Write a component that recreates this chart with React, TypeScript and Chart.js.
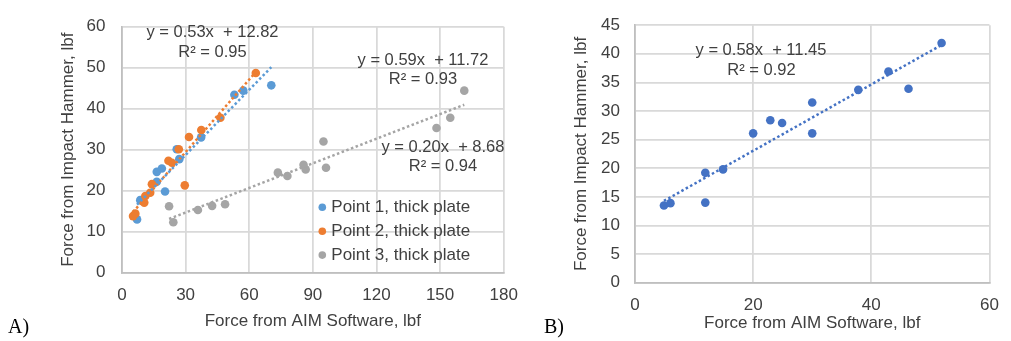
import React, { useEffect, useRef } from "react";
import { Chart, registerables } from "chart.js";

Chart.register(...registerables);

// ---------- Data: chart A ----------
const seriesNamesA = ["Point 1, thick plate", "Point 2, thick plate", "Point 3, thick plate"];
const p1X = [7.1, 8.6, 16.4, 16.4, 18.8, 20.3, 25.8, 27.0, 37.3, 53.0, 57.2, 70.4];
const p1Y = [13.0, 17.7, 22.2, 24.6, 25.4, 19.8, 30.1, 27.7, 33.0, 43.4, 44.4, 45.7];
const p2X = [5.2, 6.3, 10.5, 11.0, 13.3, 14.1, 21.9, 23.5, 26.8, 29.6, 31.6, 37.4, 46.4, 63.1];
const p2Y = [13.8, 14.4, 17.1, 18.7, 19.5, 21.6, 27.3, 26.8, 30.1, 21.3, 33.1, 34.8, 37.8, 48.7];
const p3X = [22.2, 24.2, 35.8, 42.5, 48.6, 73.5, 78.0, 85.6, 86.6, 95.0, 96.2, 148.3, 154.8, 161.4];
const p3Y = [16.2, 12.3, 15.3, 16.3, 16.7, 24.4, 23.6, 26.3, 25.2, 32.0, 25.6, 35.3, 37.8, 44.4];
const fitSlopeA = [0.53, 0.59, 0.2];
const fitInterceptA = [12.82, 11.72, 8.68];
const fitR2A = ["0.95", "0.93", "0.94"];
const fitEqA = ["y = 0.53x  + 12.82", "y = 0.59x  + 11.72", "y = 0.20x  + 8.68"];
const xTicksA = { min: 0, max: 180, step: 30 };
const yTicksA = { min: 0, max: 60, step: 10 };

// ---------- Data: chart B ----------
const bX = [4.9, 6.0, 11.9, 11.9, 14.9, 20.0, 22.9, 24.9, 30.0, 30.0, 37.8, 42.9, 46.3, 51.9];
const bY = [13.5, 13.9, 19.2, 14.0, 19.8, 26.1, 28.4, 27.9, 31.5, 26.1, 33.7, 36.9, 33.9, 41.9];
const fitSlopeB = 0.58;
const fitInterceptB = 11.45;
const fitEqB = "y = 0.58x  + 11.45";
const fitR2B = "0.92";
const xTicksB = { min: 0, max: 60, step: 20 };
const yTicksB = { min: 0, max: 45, step: 5 };

const xTitle = "Force from AIM Software, lbf";
const yTitle = "Force from Impact Hammer, lbf";

// ---------- Styles ----------
const BLUE = "#5B9BD5";
const ORANGE = "#ED7D31";
const GRAY = "#A5A5A5";
const BLUE_B = "#4472C4";
const TEXT = "#404040";
const FAMILY = "'Liberation Sans', Arial, sans-serif";

const pts = (xs: number[], ys: number[]) => xs.map((x, i) => ({ x, y: ys[i] }));
const trend = (xs: number[], m: number, b: number) => {
  const lo = Math.min(...xs);
  const hi = Math.max(...xs);
  return [
    { x: lo, y: m * lo + b },
    { x: hi, y: m * hi + b },
  ];
};

const textPlugin = {
  id: "texts",
  afterDatasetsDraw(chart: any, _args: any, opts: any) {
    const ctx = chart.ctx;
    ctx.save();
    ctx.textBaseline = "middle";
    for (const t of opts.items || []) {
      ctx.font = t.font;
      ctx.fillStyle = TEXT;
      ctx.textAlign = t.align || "center";
      ctx.fillText(t.text, t.x, t.y);
    }
    const lg = opts.legend;
    if (lg) {
      lg.items.forEach((it: any, i: number) => {
        const y = lg.y + i * lg.dy;
        ctx.beginPath();
        ctx.fillStyle = it.color;
        ctx.arc(lg.x, y, lg.r, 0, Math.PI * 2);
        ctx.fill();
        ctx.font = lg.font;
        ctx.fillStyle = TEXT;
        ctx.textAlign = "left";
        ctx.fillText(it.text, lg.x + lg.gap, y);
      });
    }
    ctx.restore();
  },
};

const tickFont = { family: FAMILY, size: 17 };
const titleFont = { family: FAMILY, size: 17 };
const eqFont = `16.5px ${FAMILY}`;

function axes(
  xt: { min: number; max: number; step: number },
  yt: { min: number; max: number; step: number },
  yWidth: number,
  xHeight: number,
  yTitlePad: number,
  xTitlePad: number,
  yTickPad: number
) {
  const grid = { color: "#d9d9d9", lineWidth: 1.75, drawTicks: false };
  const border = { color: "#bfbfbf", width: 1.75 };
  return {
    x: {
      type: "linear",
      min: xt.min,
      max: xt.max,
      ticks: { stepSize: xt.step, padding: 12.1, color: TEXT, font: tickFont, maxRotation: 0 },
      grid,
      border,
      title: { display: true, text: xTitle, color: TEXT, font: titleFont, padding: { top: 0, bottom: xTitlePad } },
      afterFit: (s: any) => {
        s.height = xHeight;
      },
    },
    y: {
      type: "linear",
      min: yt.min,
      max: yt.max,
      ticks: { stepSize: yt.step, padding: yTickPad, color: TEXT, font: tickFont },
      grid,
      border,
      title: { display: true, text: yTitle, color: TEXT, font: titleFont, padding: { top: yTitlePad, bottom: 0 } },
      afterFit: (s: any) => {
        s.width = yWidth;
      },
    },
  };
}

export default function App() {
  const refA = useRef<HTMLCanvasElement>(null);
  const refB = useRef<HTMLCanvasElement>(null);

  useEffect(() => {
    const colorsA = [BLUE, ORANGE, GRAY];
    const xsA = [p1X, p2X, p3X];
    const ysA = [p1Y, p2Y, p3Y];
    const scatterSets = xsA.map((xs, i) => ({
      type: "scatter",
      label: seriesNamesA[i],
      data: pts(xs, ysA[i]),
      backgroundColor: colorsA[i],
      borderWidth: 0,
      pointRadius: 4.3,
      order: [2, 1, 3][i],
    }));
    const trendSets = xsA.map((xs, i) => ({
      type: "line",
      label: seriesNamesA[i] + " trend",
      data: trend(xs, fitSlopeA[i], fitInterceptA[i]),
      borderColor: colorsA[i],
      borderWidth: 2.5,
      borderDash: [2.5, 2.5],
      pointRadius: 0,
      fill: false,
      showLine: true,
      order: 0,
    }));

    const chartA = new Chart(refA.current as HTMLCanvasElement, {
      type: "scatter",
      data: { datasets: [...scatterSets, ...trendSets] as any },
      plugins: [textPlugin as any],
      options: {
        responsive: false,
        animation: false,
        devicePixelRatio: 1,
        layout: { padding: { left: 0, top: 18, right: 23, bottom: 0 } },
        plugins: {
          legend: { display: false },
          tooltip: { enabled: false },
          texts: {
            items: [
              { text: fitEqA[0], x: 212.5, y: 32, font: eqFont },
              { text: "R² = " + fitR2A[0], x: 212.5, y: 52, font: eqFont },
              { text: fitEqA[1], x: 423, y: 60, font: eqFont },
              { text: "R² = " + fitR2A[1], x: 423, y: 79.5, font: eqFont },
              { text: fitEqA[2], x: 443, y: 147, font: eqFont },
              { text: "R² = " + fitR2A[2], x: 443, y: 166.5, font: eqFont },
            ],
            legend: {
              x: 322.3,
              y: 207.3,
              dy: 23.9,
              r: 3.8,
              gap: 9,
              font: `17px ${FAMILY}`,
              items: seriesNamesA.map((n, i) => ({ text: n, color: colorsA[i] })),
            },
          },
        } as any,
        scales: axes(xTicksA, yTicksA, 122, 68.3, 58.5, 9.8, 16.5) as any,
      },
    });

    const chartB = new Chart(refB.current as HTMLCanvasElement, {
      type: "scatter",
      data: {
        datasets: [
          {
            type: "scatter",
            label: "Series B",
            data: pts(bX, bY),
            backgroundColor: BLUE_B,
            borderWidth: 0,
            pointRadius: 4.3,
            order: 1,
          },
          {
            type: "line",
            label: "Series B trend",
            data: trend(bX, fitSlopeB, fitInterceptB),
            borderColor: BLUE_B,
            borderWidth: 2.5,
            borderDash: [2.5, 2.5],
            pointRadius: 0,
            fill: false,
            showLine: true,
            order: 0,
          },
        ] as any,
      },
      plugins: [textPlugin as any],
      options: {
        responsive: false,
        animation: false,
        devicePixelRatio: 1,
        layout: { padding: { left: 0, top: 23, right: 11, bottom: 0 } },
        plugins: {
          legend: { display: false },
          tooltip: { enabled: false },
          texts: {
            items: [
              { text: fitEqB, x: 231, y: 50, font: eqFont },
              { text: "R² = " + fitR2B, x: 231.5, y: 70, font: eqFont },
            ],
          },
        } as any,
        scales: axes(xTicksB, yTicksB, 105, 58.3, 41.3, 7.8, 15) as any,
      },
    });

    return () => {
      chartA.destroy();
      chartB.destroy();
    };
  }, []);

  const panelLabel: React.CSSProperties = {
    position: "absolute",
    top: 316,
    fontFamily: "'Liberation Serif', 'Times New Roman', serif",
    fontSize: 20,
    lineHeight: "20px",
    color: "#000",
  };

  return (
    <div style={{ position: "absolute", left: 0, top: 0, width: 1011, height: 341, background: "#fff", overflow: "hidden" }}>
      <canvas ref={refA} width={530} height={341} style={{ position: "absolute", left: 0, top: 0 }} />
      <canvas ref={refB} width={481} height={341} style={{ position: "absolute", left: 530, top: 0 }} />
      <div style={{ ...panelLabel, left: 8 }}>A)</div>
      <div style={{ ...panelLabel, left: 544 }}>B)</div>
    </div>
  );
}
